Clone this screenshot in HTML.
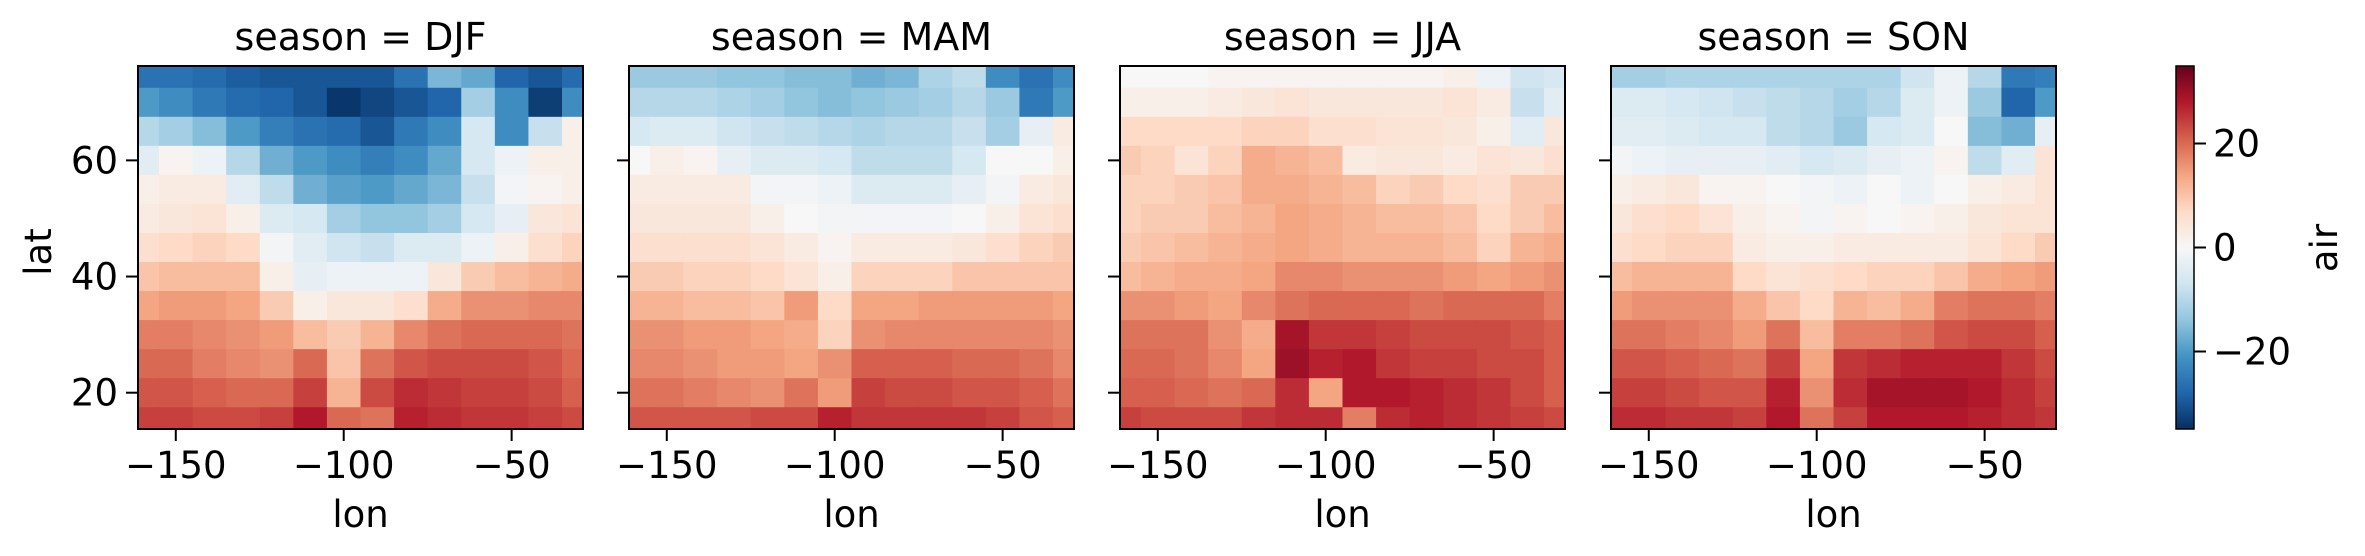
<!DOCTYPE html>
<html><head><meta charset="utf-8"><style>
html,body{margin:0;padding:0;background:#fff;}
svg{display:block;font-family:"DejaVu Sans","Liberation Sans",sans-serif;}
</style></head><body>
<svg id="chart" width="2365" height="556" viewBox="0 0 2365 556" xmlns="http://www.w3.org/2000/svg"></svg>
<script>
const seasons = ["DJF","MAM","JJA","SON"];
const lats = [75,70,65,60,55,50,45,40,35,30,25,20,15];
const lons = [-160,-150,-140,-130,-120,-110,-100,-90,-80,-70,-60,-50,-40,-30];
const xTicks = [-150,-100,-50];
const yTicks = [20,40,60];
const cbTicks = [-20,0,20];
const djf = [
[-26,-26,-27,-29,-30,-30,-30,-30,-26,-16,-18,-28,-30,-27],
[-20,-22,-25,-27,-28,-30,-34,-32,-30,-28,-12,-22,-33,-22],
[-10,-12,-15,-20,-24,-26,-27,-30,-25,-22,-6,-22,-8,2],
[-4,1,-2,-10,-17,-20,-22,-24,-22,-18,-6,-2,2,2],
[2,3,3,-4,-9,-17,-19,-20,-18,-16,-8,-1,1,2],
[3,4,5,2,-5,-6,-12,-14,-14,-12,-6,-3,4,5],
[6,7,8,7,-1,-4,-7,-8,-5,-5,-2,2,6,8],
[10,11,11,11,2,-3,-2,-2,-2,4,9,11,12,13],
[14,15,15,14,9,2,4,4,6,13,16,16,17,17],
[18,18,17,16,15,11,9,12,17,19,20,20,20,19],
[20,20,18,17,16,20,10,19,22,23,23,23,22,20],
[22,22,21,20,20,24,12,23,26,25,24,24,23,21],
[24,24,23,23,24,28,20,19,27,26,25,25,24,23]];
const mam = [
[-13,-13,-13,-14,-14,-15,-15,-17,-16,-11,-9,-22,-26,-22],
[-10,-10,-10,-11,-12,-14,-15,-14,-13,-12,-10,-13,-25,-20],
[-6,-5,-5,-7,-8,-9,-10,-11,-10,-10,-8,-12,-3,3],
[0,2,1,-3,-5,-5,-6,-9,-9,-9,-6,0,0,2],
[3,3,3,3,-1,-1,-2,-5,-5,-5,-3,-1,3,4],
[4,4,4,4,2,0,-1,-1,-1,-1,0,2,5,6],
[6,6,6,6,5,3,1,3,3,3,4,6,8,9],
[9,9,8,8,7,5,2,8,8,8,10,10,10,10],
[12,12,11,11,10,15,7,14,14,15,15,15,15,14],
[16,16,15,15,14,13,8,16,17,17,17,17,17,16],
[17,17,16,15,15,14,16,21,21,21,20,20,19,17],
[19,19,18,17,16,19,15,24,23,23,22,22,21,19],
[22,22,22,22,23,23,27,25,25,25,25,24,22,21]];
const jja = [
[0,0,0,1,1,1,1,1,1,1,2,-2,-7,-6],
[2,2,2,3,4,5,4,4,4,4,5,3,-8,-4],
[7,7,7,7,8,8,6,6,5,5,4,2,-4,4],
[9,8,5,8,13,12,11,3,4,4,3,5,4,6],
[8,8,9,10,13,13,12,11,8,9,7,6,9,9],
[8,9,9,11,12,14,13,12,11,11,10,7,9,11],
[9,10,11,12,13,14,13,12,12,12,11,8,12,13],
[11,12,13,13,14,17,17,16,16,16,15,14,15,16],
[16,16,15,14,17,19,20,20,20,19,20,20,20,18],
[19,19,19,16,13,29,25,25,24,23,23,23,22,21],
[20,20,19,17,14,30,27,28,25,24,24,23,23,21],
[21,21,20,19,20,26,14,28,28,27,26,25,23,21],
[24,23,23,23,25,26,26,18,26,27,26,25,24,23]];
const son = [
[-12,-12,-11,-11,-11,-11,-11,-11,-11,-7,-2,-10,-25,-24],
[-5,-5,-6,-7,-8,-9,-10,-12,-10,-5,-2,-13,-28,-20],
[-4,-4,-5,-6,-6,-9,-10,-13,-6,-5,0,-15,-17,-3],
[-1,-2,-3,-3,-3,-4,-6,-5,-3,-2,1,-9,-4,5],
[2,3,4,1,1,0,-1,-2,0,-2,0,2,3,5],
[4,6,7,5,2,1,-1,1,0,1,2,4,5,5],
[6,7,8,8,3,2,2,3,3,3,3,5,7,9],
[11,12,12,12,7,5,6,7,8,8,10,13,14,15],
[15,16,16,16,13,10,7,12,11,13,18,19,19,18],
[19,19,18,17,15,19,11,18,18,19,22,23,23,21],
[22,22,21,20,19,24,14,25,26,27,27,27,25,23],
[24,24,23,22,22,27,16,26,29,29,29,28,26,24],
[26,26,25,25,24,28,19,24,28,28,28,27,26,25]];
const seasonData = [djf, mam, jja, son];

const NS = "http://www.w3.org/2000/svg";
const svg = document.getElementById("chart");
const VMIN = -34.9, VMAX = 34.9;
const panelX = [138, 629, 1120, 1611];
const PW = 445, PT = 66, PB = 429;
const LON0 = -161.25, LON1 = -28.75, LAT0 = 13.75, LAT1 = 76.25;
const stops = ["#053061","#2166ac","#4393c3","#92c5de","#d1e5f0","#f7f7f7","#fddbc7","#f4a582","#d6604d","#b2182b","#67001f"];
function hex(h){return [1,3,5].map(i=>parseInt(h.substr(i,2),16));}
function color(v){
  let t = (v - VMIN) / (VMAX - VMIN); t = Math.max(0, Math.min(1, t));
  const p = t * (stops.length - 1); const i = Math.min(stops.length - 2, Math.floor(p)); const f = p - i;
  const a = hex(stops[i]), b = hex(stops[i+1]);
  return "rgb(" + a.map((c,k)=>Math.round(c + (b[k]-c)*f)).join(",") + ")";
}
function mk(tag, attrs, parent){
  const el = document.createElementNS(NS, tag);
  for (const k in attrs) el.setAttribute(k, attrs[k]);
  (parent || svg).appendChild(el); return el;
}
function xs(px, lon){ return px + (lon - LON0) / (LON1 - LON0) * PW; }
function ys(lat){ return PT + (LAT1 - lat) / (LAT1 - LAT0) * (PB - PT); }
function cbY(v){ return PB - (v - VMIN) / (VMAX - VMIN) * (PB - PT); }

seasons.forEach((s, p) => {
  const px = panelX[p];
  const g = mk("g", {});
  
  
  const data = seasonData[p];
  lats.forEach((lat, r) => {
    lons.forEach((lon, c) => {
      const x0 = xs(px, Math.max(LON0, lon - 5)), x1 = xs(px, Math.min(LON1, lon + 5));
      const y0 = ys(Math.min(LAT1, lat + 2.5)), y1 = ys(Math.max(LAT0, lat - 2.5));
      const cell = mk("rect", {x: x0, y: y0, width: x1 - x0 + 0.6, height: y1 - y0 + 0.6, fill: color(data[r][c])}, g);
      
      
    });
  });
  const frame = mk("rect", {x: px, y: PT, width: PW, height: PB - PT, fill: "none", stroke: "#000", "stroke-width": 2}, g);
  
  
  const title = mk("text", {x: px + PW/2, y: 50, "text-anchor": "middle", "font-size": 38}, g);
  title.textContent = "season = " + s;
  
  
  xTicks.forEach(t => {
    const x = xs(px, t);
    const tk = mk("line", {x1: x, x2: x, y1: PB, y2: PB + 12, stroke: "#000", "stroke-width": 2}, g);
    
    
    const lb = mk("text", {x: x, y: 478, "text-anchor": "middle", "font-size": 37}, g);
    lb.textContent = "\u2212" + Math.abs(t);
    
    
  });
  const xl = mk("text", {x: px + PW/2, y: 527, "text-anchor": "middle", "font-size": 37}, g);
  xl.textContent = "lon";
  
  
  yTicks.forEach(t => {
    const y = ys(t);
    const tk = mk("line", {x1: px - 12, x2: px, y1: y, y2: y, stroke: "#000", "stroke-width": 2}, g);
    
    
    if (p === 0) {
      const lb = mk("text", {x: px - 20, y: y + 13, "text-anchor": "end", "font-size": 37}, g);
      lb.textContent = String(t);
      
      
    }
  });
});
const yl = mk("text", {x: 0, y: 0, "text-anchor": "middle", "font-size": 37, transform: "translate(51,252) rotate(-90)"});
yl.textContent = "lat";



const defs = mk("defs", {});
const grad = mk("linearGradient", {id: "cbgrad", x1: 0, y1: 1, x2: 0, y2: 0}, defs);
stops.forEach((c, i) => mk("stop", {offset: (i / (stops.length - 1)), "stop-color": c}, grad));
const cb = mk("rect", {x: 2176, y: PT, width: 18, height: PB - PT, fill: "url(#cbgrad)", stroke: "#000", "stroke-width": 1.5});


cbTicks.forEach(t => {
  const y = cbY(t);
  const tk = mk("line", {x1: 2194, x2: 2206, y1: y, y2: y, stroke: "#000", "stroke-width": 2});
  
  
  const lb = mk("text", {x: 2213, y: y + 13, "font-size": 37});
  lb.textContent = t < 0 ? "\u2212" + Math.abs(t) : String(t);
  
  
});
const cl = mk("text", {x: 0, y: 0, "text-anchor": "middle", "font-size": 37, transform: "translate(2337,248) rotate(-90)"});
cl.textContent = "air";


</script>
</body></html>
